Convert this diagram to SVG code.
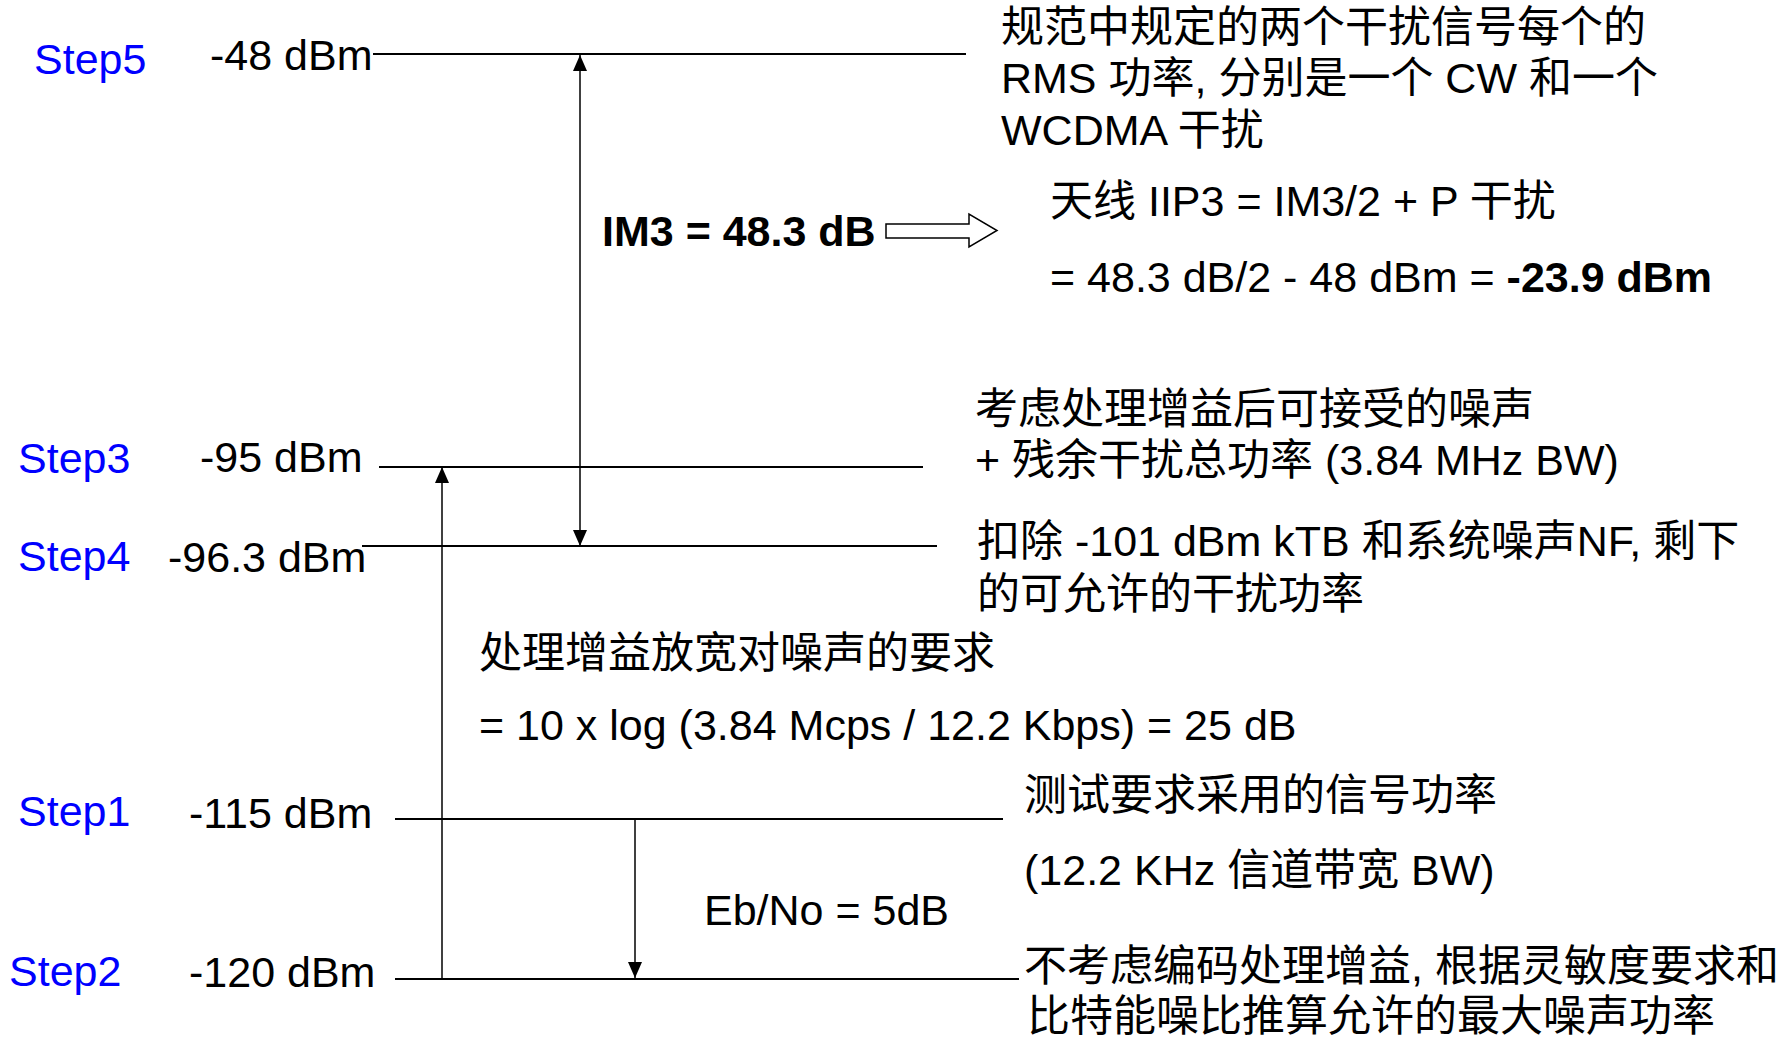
<svg xmlns="http://www.w3.org/2000/svg" width="1785" height="1039" viewBox="0 0 1785 1039">
<style>
text{font-family:"Liberation Sans","Noto Sans CJK SC",Arial,sans-serif;font-size:43px;fill:#000}
.step{fill:#0000FF}
.b{font-weight:bold}
.lvl{stroke:#000;stroke-width:2;fill:none}
.arr{stroke:#000;stroke-width:1.5;fill:none}
</style>
<defs>
<marker id="ah" viewBox="0 0 16 14" refX="16" refY="7" markerWidth="16" markerHeight="14" markerUnits="userSpaceOnUse" orient="auto-start-reverse">
<path d="M0,0 L16,7 L0,14 Z" fill="#000"/>
</marker>
</defs>
<rect width="1785" height="1039" fill="#fff"/>
<g id="step5">
<text class="step" x="34" y="74">Step5</text>
<text x="210" y="70">-48 dBm</text>
</g>
<g id="step3">
<text class="step" x="18" y="473">Step3</text>
<text x="200" y="472">-95 dBm</text>
</g>
<g id="step4">
<text class="step" x="18" y="571">Step4</text>
<text x="168" y="572">-96.3 dBm</text>
</g>
<g id="step1">
<text class="step" x="18" y="826">Step1</text>
<text x="189" y="828">-115 dBm</text>
</g>
<g id="step2">
<text class="step" x="9" y="986">Step2</text>
<text x="189" y="987">-120 dBm</text>
</g>
<g id="note5">
<text x="1001" y="42">规范中规定的两个干扰信号每个的</text>
<text x="1001" y="93">RMS 功率, 分别是一个 CW 和一个</text>
<text x="1001" y="145">WCDMA 干扰</text>
</g>
<g id="im3">
<text class="b" x="602" y="246">IM3 = 48.3 dB</text>
</g>
<g id="iip3">
<text x="1050" y="216">天线 IIP3 = IM3/2 + P 干扰</text>
<text x="1050" y="292">= 48.3 dB/2 - 48 dBm = <tspan class="b">-23.9 dBm</tspan></text>
</g>
<g id="note3">
<text x="975" y="424">考虑处理增益后可接受的噪声</text>
<text x="975" y="475">+ 残余干扰总功率 (3.84 MHz BW)</text>
</g>
<g id="note4">
<text x="977" y="556">扣除 -101 dBm kTB 和系统噪声NF, 剩下</text>
<text x="977" y="609">的可允许的干扰功率</text>
</g>
<g id="gain">
<text x="479" y="668">处理增益放宽对噪声的要求</text>
<text x="479" y="740">= 10 x log (3.84 Mcps / 12.2 Kbps) = 25 dB</text>
</g>
<g id="note1">
<text x="1024" y="810">测试要求采用的信号功率</text>
<text x="1024" y="885">(12.2 KHz 信道带宽 BW)</text>
</g>
<g id="ebno">
<text x="704" y="925">Eb/No = 5dB</text>
</g>
<g id="note2">
<text x="1024" y="981">不考虑编码处理增益, 根据灵敏度要求和</text>
<text x="1027" y="1031">比特能噪比推算允许的最大噪声功率</text>
</g>
<g id="connectors">
<line class="lvl" x1="373" y1="54" x2="966" y2="54"/>
<line class="lvl" x1="379" y1="467" x2="923" y2="467"/>
<line class="lvl" x1="362" y1="546" x2="937" y2="546"/>
<line class="lvl" x1="395" y1="819" x2="1003" y2="819"/>
<line class="lvl" x1="395" y1="979" x2="1019" y2="979"/>
<line class="arr" x1="580" y1="55" x2="580" y2="546" marker-start="url(#ah)" marker-end="url(#ah)"/>
<line class="arr" x1="442" y1="979" x2="442" y2="467" marker-end="url(#ah)"/>
<line class="arr" x1="635" y1="819" x2="635" y2="978" marker-end="url(#ah)"/>
<polygon points="886,224 969,224 969,214 997,230.5 969,247 969,238 886,238" fill="#fff" stroke="#000" stroke-width="1.5"/>
</g>
</svg>
